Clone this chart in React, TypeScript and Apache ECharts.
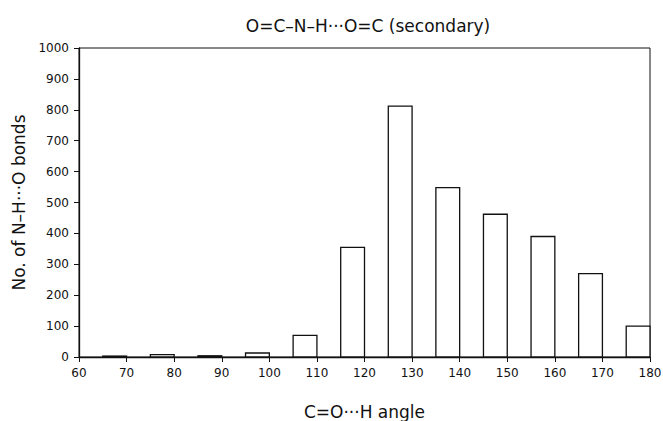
import React, { useEffect, useRef } from "react";
import * as echarts from "echarts";

const binEnds = [70, 80, 90, 100, 110, 120, 130, 140, 150, 160, 170, 180];
const counts = [3, 8, 4, 13, 70, 355, 812, 548, 462, 390, 270, 100];
const binWidth = 5;

const FONT = "DejaVu Sans";

export default function App() {
  const ref = useRef<HTMLDivElement>(null);
  useEffect(() => {
    if (!ref.current) return;
    const chart = echarts.init(ref.current, null, { renderer: "svg" });
    const data = binEnds.map((e, i) => [e - binWidth, e, counts[i]]);
    chart.setOption({
      animation: false,
      backgroundColor: "#fff",
      title: {
        text: "O=C\u2013N\u2013H\u00B7\u00B7\u00B7O=C (secondary)",
        left: 363,
        textAlign: "center",
        top: 12,
        textStyle: { fontFamily: FONT, fontSize: 17, fontWeight: "normal", color: "#111" },
      },
      grid: {
        left: 79,
        right: 13,
        top: 48,
        bottom: 64,
        containLabel: false,
        outerBoundsMode: "none",
        show: true,
        borderColor: "#111",
        borderWidth: 1,
      },
      xAxis: {
        type: "value",
        min: 60,
        max: 180,
        interval: 10,
        name: "C=O\u00B7\u00B7\u00B7H angle",
        nameLocation: "middle",
        nameGap: 46,
        nameTextStyle: { fontFamily: FONT, fontSize: 17, color: "#111" },
        axisLine: { show: true, lineStyle: { color: "#111", width: 1.3 } },
        axisTick: { show: true, length: 5, inside: false, lineStyle: { color: "#111" } },
        axisLabel: { fontFamily: FONT, fontSize: 12, color: "#111", margin: 10 },
        splitLine: { show: false },
      },
      yAxis: {
        type: "value",
        min: 0,
        max: 1000,
        interval: 100,
        name: "No. of N\u2013H\u00B7\u00B7\u00B7O bonds",
        nameLocation: "middle",
        nameGap: 48,
        nameTextStyle: { fontFamily: FONT, fontSize: 17, color: "#111" },
        axisLine: { show: true, lineStyle: { color: "#111", width: 1.3 } },
        axisTick: { show: true, length: 5, inside: false, lineStyle: { color: "#111" } },
        axisLabel: {
          fontFamily: FONT,
          fontSize: 12,
          color: "#111",
          margin: 10,
          formatter: (v: number) => String(v),
        },
        splitLine: { show: false },
      },
      series: [
        {
          type: "custom",
          data,
          encode: { x: [0, 1], y: 2 },
          renderItem: (params: any, api: any) => {
            const x0 = api.value(0);
            const x1 = api.value(1);
            const v = api.value(2);
            const p0 = api.coord([x0, 0]);
            const p1 = api.coord([x1, v]);
            return {
              type: "rect",
              shape: { x: p0[0], y: p1[1], width: p1[0] - p0[0], height: p0[1] - p1[1] },
              style: { fill: "#fff", stroke: "#111", lineWidth: 1.3 },
            };
          },
        },
      ],
    });
    return () => chart.dispose();
  }, []);
  return (
    <div
      ref={ref}
      style={{ position: "absolute", left: 0, top: 0, width: 663, height: 421 }}
    />
  );
}
